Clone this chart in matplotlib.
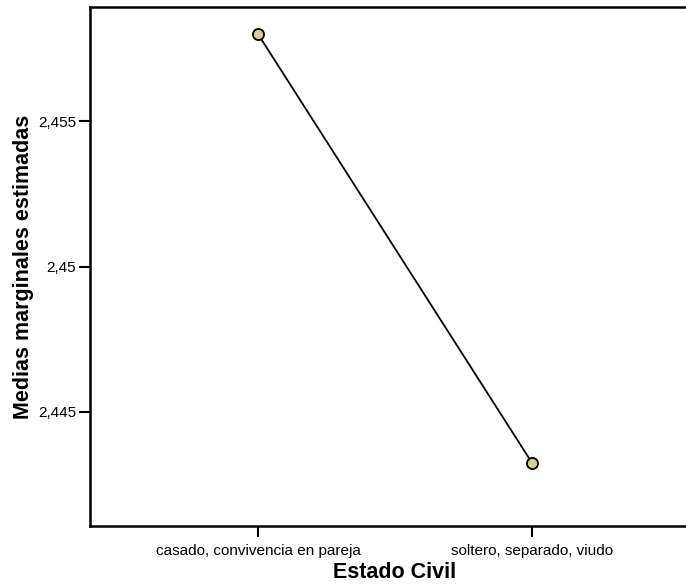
import matplotlib
matplotlib.use("Agg")
import matplotlib.pyplot as plt
from matplotlib.ticker import FixedLocator, FixedFormatter

categories = ["casado, convivencia en pareja", "soltero, separado, viudo"]
means = [2.45799, 2.44325]
ytick_values = [2.445, 2.45, 2.455]
ytick_labels = ["2,445", "2,45", "2,455"]

plt.rcParams['font.family'] = ['Liberation Sans', 'DejaVu Sans']

fig = plt.figure(figsize=(6.86, 5.84), dpi=100)
W, H = 686, 584
ax = fig.add_axes([90 / W, 1 - 526 / H, (700 - 90) / W, (526 - 7) / H])

x = list(range(len(categories)))
ax.plot(x, means, color='black', linewidth=1.3, marker='o', markersize=8,
        markerfacecolor='#d6cf98', markeredgecolor='black', markeredgewidth=1.3,
        zorder=3)

ax.set_xlim(-0.613, 1.613)
ax.set_ylim(2.44108, 2.45892)
ax.set_xticks(x)
ax.set_xticklabels(categories, fontsize=11)
ax.yaxis.set_major_locator(FixedLocator(ytick_values))
ax.yaxis.set_major_formatter(FixedFormatter(ytick_labels))
ax.tick_params(axis='y', labelsize=11, length=8, width=1.5, direction='out', pad=2)
ax.tick_params(axis='x', length=8, width=1.5, direction='out', pad=5)

for s in ax.spines.values():
    s.set_linewidth(1.8)

ax.set_xlabel("Estado Civil", fontsize=15.5, fontweight='bold', labelpad=2.5)
ax.set_ylabel("Medias marginales estimadas", fontsize=15.5, fontweight='bold', labelpad=3)

fig.savefig("out.png", dpi=100)
